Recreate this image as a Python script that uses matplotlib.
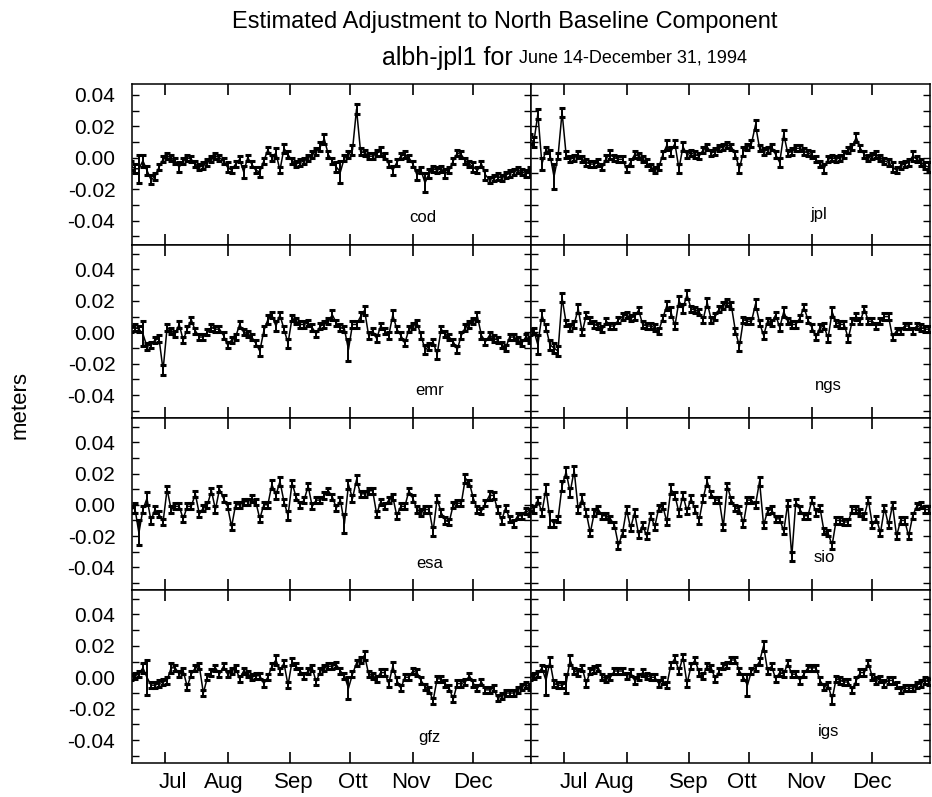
import datetime as dt
import matplotlib
matplotlib.use("Agg")
import matplotlib.pyplot as plt
import matplotlib.dates as mdates
import matplotlib.transforms as mtransforms
from matplotlib.ticker import MultipleLocator, FormatStrFormatter
import numpy as np
import pandas as pd

plt.rcParams['font.family'] = ['Liberation Sans', 'DejaVu Sans']
plt.rcParams['axes.unicode_minus'] = False

# one estimate every second day, June 14 - December 30, 1994
days = pd.date_range('1994-06-14', '1994-12-30', freq='2D')

# north baseline adjustments, mm
cod = [-5, -7, -7, -2, -8, -14, -12, -6, -1, 1,
       0, -2, -6, -2, 0, -1, -4, -6, -5, -3,
       -1, 1, 0, -2, -6, -8, -4, -1, -9, 0,
       -4, -8, -9, -2, 5, 0, 3, -8, 6, 2,
       -2, -4, -3, -2, 0, 2, 4, 7, 12, 2,
       -2, -6, -9, 0, 2, 5, 31, 4, 3, 1,
       1, 3, 4, 1, -4, -8, -3, 1, 2, 0,
       -4, -11, -8, -16, -10, -7, -8, -7, -10, -8,
       -2, 3, 2, -2, -4, -6, -8, -4, -11, -14,
       -13, -12, -13, -11, -10, -9, -8, -9, -10, -9]
cod_err = [3, 3, 9, 4, 3, 3, 2, 2, 2, 2,
           2, 2, 3, 2, 2, 2, 2, 2, 2, 2,
           2, 2, 2, 2, 3, 2, 2, 2, 4, 2,
           2, 2, 3, 2, 2, 2, 3, 2, 3, 2,
           2, 2, 2, 2, 2, 2, 2, 3, 3, 2,
           2, 3, 7, 2, 2, 3, 3, 2, 2, 2,
           2, 2, 3, 2, 2, 3, 2, 2, 2, 2,
           2, 3, 2, 6, 3, 2, 2, 2, 3, 2,
           2, 2, 2, 2, 2, 3, 2, 2, 3, 2,
           2, 2, 2, 2, 2, 2, 2, 2, 2, 3]

jpl = [12, 10, 28, -4, 5, 2, -12, 1, 29, 2,
       -1, 0, 2, -1, -3, -4, -4, -3, -6, 0,
       2, 0, -1, -1, -7, -3, 2, 1, -1, -3,
       -6, -8, -6, 2, 8, 4, 9, -7, 7, 2,
       3, 2, 1, 5, 7, 3, 4, 6, 7, 8,
       7, 2, -7, 4, 7, 9, 21, 6, 4, 5,
       7, 2, -3, 15, 3, 4, 6, 6, 4, 3,
       2, -1, -4, -7, -1, 0, -1, 0, 2, 5,
       7, 13, 6, 2, 0, 1, 2, 0, -2, -3,
       -6, -8, -5, -4, -3, 1, -1, -3, -5, -6]
jpl_err = [3, 3, 3, 4, 2, 3, 8, 2, 3, 2,
           2, 2, 2, 2, 2, 2, 2, 2, 2, 2,
           3, 2, 2, 2, 2, 2, 2, 2, 2, 2,
           2, 2, 2, 2, 3, 3, 2, 3, 3, 2,
           2, 2, 2, 2, 2, 2, 2, 2, 2, 2,
           2, 2, 3, 3, 2, 2, 3, 2, 2, 2,
           2, 2, 3, 3, 2, 2, 2, 2, 2, 2,
           2, 2, 2, 3, 2, 2, 2, 2, 2, 2,
           2, 3, 2, 2, 2, 2, 2, 2, 2, 2,
           3, 2, 2, 2, 2, 3, 2, 2, 2, 3]

emr = [2, 3, 2, -1, -9, -8, -5, -4, -24, 3,
       1, -1, 5, -5, 2, 8, 1, -3, -3, 0,
       3, 2, 2, -2, -8, -5, -3, 5, 0, -1,
       -3, -7, -12, 1, 8, 11, 4, 11, 2, -7,
       9, 7, 5, 5, 6, 3, -1, 4, 5, 7,
       11, 6, 3, 2, -11, 5, 5, 10, 14, -2,
       1, -4, 4, 1, -2, 11, 2, -2, -7, 2,
       4, 6, -2, -11, -9, -6, -14, 2, -1, -3,
       -6, -11, -2, 3, 5, 7, 10, -2, -6, -2,
       -4, -5, -8, -10, -3, -3, -5, -7, -3, -5]
emr_err = [2, 2, 2, 8, 2, 2, 2, 2, 3, 2,
           2, 2, 2, 2, 2, 2, 2, 2, 2, 2,
           2, 2, 2, 2, 2, 2, 2, 2, 2, 2,
           2, 2, 3, 3, 3, 2, 3, 2, 2, 3,
           2, 2, 2, 2, 2, 2, 2, 2, 2, 2,
           3, 2, 2, 2, 7, 2, 2, 3, 3, 2,
           2, 2, 2, 2, 2, 3, 2, 2, 2, 2,
           2, 2, 2, 3, 2, 2, 3, 2, 2, 2,
           2, 2, 2, 2, 2, 2, 3, 2, 2, 2,
           2, 2, 2, 2, 2, 2, 2, 2, 2, 2]

ngs = [0, 1, -8, 11, 3, -8, -10, -12, 22, 6,
       3, 5, 15, 0, 11, 8, 5, 4, 2, 7,
       4, 4, 8, 10, 11, 9, 10, 14, 5, 4,
       4, 3, 1, 9, 17, 13, 4, 20, 15, 24,
       15, 14, 13, 8, 19, 8, 10, 15, 17, 19,
       17, 1, -9, 8, 7, 7, 18, 6, -2, 7,
       6, 11, 3, 13, 7, 5, 5, 9, 16, 8,
       3, -3, 3, 4, -4, 13, 6, 5, 5, -4,
       7, 10, 7, 15, 7, 7, 4, 7, 10, 10,
       -3, 1, 1, 4, 4, 1, 4, 3, 2, 2]
ngs_err = [2, 2, 6, 3, 2, 3, 3, 3, 3, 2,
           2, 2, 3, 2, 2, 2, 2, 2, 2, 2,
           2, 2, 2, 2, 2, 2, 2, 2, 2, 2,
           2, 2, 2, 2, 3, 3, 2, 3, 3, 3,
           2, 2, 2, 2, 3, 2, 2, 2, 2, 2,
           2, 2, 3, 2, 2, 2, 3, 2, 2, 2,
           2, 2, 2, 3, 2, 2, 2, 2, 2, 2,
           2, 2, 2, 2, 2, 3, 2, 2, 2, 2,
           2, 2, 2, 2, 2, 2, 2, 2, 2, 2,
           2, 2, 2, 2, 2, 2, 2, 2, 2, 2]

esa = [-3, -2, -18, -3, 4, -10, -3, -6, -11, 10,
       -3, -1, -1, -9, -1, -1, 7, -6, -2, 0,
       9, -3, 10, 4, -1, -14, 0, 0, 2, 2,
       4, 2, -9, 0, 0, 13, 6, 15, 2, -7,
       14, 5, 0, 3, 12, -1, 3, 3, 6, 9,
       5, -2, 3, -12, 13, 4, 16, 7, 7, 9,
       9, -6, 2, -1, 3, 5, -7, -1, -1, 9,
       4, -3, -5, -3, -3, -17, 4, -5, -10, -11,
       0, 1, 1, 17, 14, 4, -3, -4, 1, 6,
       6, -3, -10, -2, -9, -12, -7, -7, -4, -5]
esa_err = [2, 3, 8, 2, 4, 2, 2, 2, 2, 2,
           2, 2, 2, 2, 2, 2, 2, 2, 2, 2,
           2, 2, 2, 2, 2, 2, 2, 2, 2, 2,
           2, 2, 2, 2, 2, 3, 2, 3, 2, 3,
           2, 2, 2, 2, 2, 2, 2, 2, 2, 2,
           2, 2, 2, 6, 3, 2, 3, 2, 2, 2,
           2, 2, 2, 2, 2, 2, 2, 2, 2, 2,
           2, 2, 2, 2, 2, 3, 2, 2, 2, 2,
           2, 2, 2, 3, 2, 2, 2, 2, 2, 3,
           2, 2, 2, 2, 2, 2, 2, 2, 2, 2]

sio = [-2, -3, 3, -5, 10, -9, -12, -9, 12, 21,
       8, 22, -3, 4, -5, -18, -5, -3, -7, -7,
       -9, -13, -26, -18, -3, -15, -5, -19, -13, -20,
       -7, -14, -2, -1, -11, 10, 6, -5, 6, -4,
       4, -3, -10, 4, 15, 7, 3, 3, -14, 12,
       3, -2, -3, -12, 3, 3, 0, 15, -13, -4,
       -3, -9, -9, -17, 1, -33, 2, -3, -7, -7,
       3, -5, -2, -17, -18, -26, -10, -10, -11, -11,
       -3, -3, -5, -7, 3, -13, -9, -18, -2, -13,
       0, -20, -10, -10, -20, -7, -1, 0, -3, -3]
sio_err = [2, 2, 2, 2, 3, 5, 2, 2, 3, 3,
           3, 3, 2, 3, 2, 2, 2, 2, 2, 2,
           2, 2, 2, 2, 2, 2, 2, 2, 2, 2,
           2, 2, 2, 2, 2, 3, 2, 2, 2, 2,
           2, 2, 2, 2, 3, 2, 2, 2, 2, 2,
           2, 2, 2, 2, 2, 2, 2, 3, 2, 2,
           2, 2, 2, 2, 2, 3, 2, 2, 2, 2,
           2, 2, 2, 2, 2, 2, 2, 2, 2, 2,
           2, 2, 2, 2, 2, 2, 2, 2, 2, 2,
           2, 2, 2, 2, 2, 2, 2, 2, 2, 2]

gfz = [0, 1, 2, 6, 0, -5, -5, -4, -3, -2,
       6, 6, 2, 4, -6, 2, 6, 7, -10, 0,
       3, 6, 2, 7, 2, 4, 6, -1, 4, 2,
       0, 1, 1, -4, 0, 7, 11, 4, 9, -5,
       10, 7, 4, 1, 4, 6, -3, 4, 6, 7,
       7, 8, 4, 1, -7, 2, 9, 11, 14, 2,
       1, -1, 3, 3, -4, 7, -2, -7, 0, 0,
       4, 3, -2, -6, -8, -15, -1, -1, -4, -7,
       -14, -4, -4, -3, 1, -4, -7, -3, -8, -8,
       -7, -13, -12, -10, -10, -10, -8, -6, -5, -6]
gfz_err = [2, 2, 2, 3, 11, 2, 2, 2, 2, 2,
           3, 2, 2, 2, 2, 2, 2, 2, 2, 2,
           2, 2, 2, 2, 2, 2, 2, 2, 2, 2,
           2, 2, 2, 2, 2, 2, 3, 2, 2, 2,
           2, 2, 2, 2, 2, 2, 2, 2, 2, 2,
           2, 2, 2, 2, 7, 2, 2, 2, 3, 2,
           2, 2, 2, 2, 2, 3, 2, 2, 2, 2,
           2, 2, 2, 2, 2, 2, 2, 2, 2, 2,
           2, 2, 2, 2, 2, 2, 2, 2, 2, 2,
           2, 2, 2, 2, 2, 2, 2, 2, 2, 2]

igs = [0, 1, 2, 6, -2, 10, -4, -5, -5, -4,
       11, 4, 3, 6, -4, 4, 5, 6, 0, -1,
       0, 4, 4, 4, 1, 3, -2, 0, 3, 1,
       0, 0, -4, -2, -5, 8, 12, 4, 13, -4,
       7, 11, 3, 1, 7, 6, -1, 4, 7, 8,
       11, 11, 4, 0, -5, 4, 6, 10, 20, 4,
       7, -1, 3, 2, 9, 2, 2, -2, 2, 6,
       6, 6, -2, -6, -5, -14, -1, -2, -3, -3,
       -8, -2, 3, 3, 9, 0, -2, -1, -4, -2,
       -2, -5, -8, -7, -7, -7, -5, -4, -2, -3]
igs_err = [2, 2, 2, 2, 9, 3, 2, 2, 2, 6,
           3, 2, 2, 2, 2, 2, 2, 2, 2, 2,
           2, 2, 2, 2, 2, 2, 2, 2, 2, 2,
           2, 2, 2, 2, 2, 2, 2, 2, 2, 2,
           2, 2, 2, 2, 2, 2, 2, 2, 2, 2,
           2, 2, 2, 2, 7, 2, 2, 2, 3, 2,
           2, 2, 2, 2, 2, 2, 2, 2, 2, 2,
           2, 2, 2, 2, 2, 3, 2, 2, 2, 2,
           2, 2, 2, 2, 2, 2, 2, 2, 2, 2,
           2, 2, 2, 2, 2, 2, 2, 2, 2, 2]

left_names = ['cod', 'emr', 'esa', 'gfz']
right_names = ['jpl', 'ngs', 'sio', 'igs']
series = {'cod': (cod, cod_err), 'jpl': (jpl, jpl_err),
          'emr': (emr, emr_err), 'ngs': (ngs, ngs_err),
          'esa': (esa, esa_err), 'sio': (sio, sio_err),
          'gfz': (gfz, gfz_err), 'igs': (igs, igs_err)}
month_names = ['Jul', 'Aug', 'Sep', 'Ott', 'Nov', 'Dec']

fig = plt.figure(figsize=(9.32, 7.97), dpi=100)

W, H = 932.0, 797.0
col_x = [(132, 531), (531, 930)]
row_y = [(84, 245), (245, 418), (418, 590), (590, 763)]
row_ylim = [(-0.0556, 0.047), (-0.0545, 0.0555), (-0.0545, 0.0555), (-0.0545, 0.0555)]
xlim = (dt.datetime(1994, 6, 14, 14), dt.datetime(1994, 12, 29, 14))
label_pos = [[(0.73, 0.17), (0.72, 0.19)], [(0.745, 0.16), (0.745, 0.19)],
             [(0.745, 0.155), (0.735, 0.19)], [(0.745, 0.145), (0.745, 0.18)]]
month_offset = [[4, -2, 2, 1, -1, 0], [5, -6, 0, -4, -3, 0]]

for r in range(4):
    for c in range(2):
        x0, x1 = col_x[c]
        y0, y1 = row_y[r]
        ax = fig.add_axes([x0 / W, 1 - y1 / H, (x1 - x0) / W, (y1 - y0) / H])
        name = (left_names if c == 0 else right_names)[r]
        vals, errs = series[name]
        ax.errorbar(days, np.array(vals) / 1000.0, yerr=np.array(errs) / 1000.0,
                    fmt='-', color='black', lw=1.1, elinewidth=1.4,
                    capsize=2.4, capthick=2.2)
        ax.set_xlim(xlim)
        ax.set_ylim(row_ylim[r])
        ax.xaxis.set_major_locator(mdates.MonthLocator(bymonth=range(7, 13)))
        ax.tick_params(axis='x', which='major', direction='in', top=True,
                       bottom=True, length=8, width=1.2, labelbottom=False)
        ax.yaxis.set_major_locator(MultipleLocator(0.02))
        ax.yaxis.set_minor_locator(MultipleLocator(0.01))
        ax.yaxis.set_major_formatter(FormatStrFormatter('%.2f'))
        ax.tick_params(axis='y', which='both', direction='in', left=True,
                       right=True, length=5, width=1, labelsize=15, pad=12,
                       labelleft=(c == 0))
        for sp in ax.spines.values():
            sp.set_linewidth(1.1)
        lx, ly = label_pos[r][c]
        ax.text(lx, ly, name, transform=ax.transAxes, ha='center', va='center',
                fontsize=12)
        if r == 3:
            trans = mtransforms.blended_transform_factory(ax.transData, ax.transAxes)
            for m, lab in enumerate(month_names):
                xd = dt.datetime(1994, 7 + m, 1) + dt.timedelta(days=month_offset[c][m])
                ax.text(xd, -0.11, lab, transform=trans, ha='center',
                        va='center', fontsize=16)

fig.text(20 / W, 1 - 405 / H, 'meters', rotation=90, ha='center', va='center',
         fontsize=16)
fig.text(505 / W, 1 - 22 / H, 'Estimated Adjustment to North Baseline Component',
         ha='center', va='center', fontsize=17)
fig.text(513 / W, 1 - 58 / H, 'albh-jpl1 for', ha='right', va='center',
         fontsize=18)
fig.text(519 / W, 1 - 58 / H, 'June 14-December 31, 1994', ha='left',
         va='center', fontsize=13)

fig.savefig('out.png', dpi=100)
